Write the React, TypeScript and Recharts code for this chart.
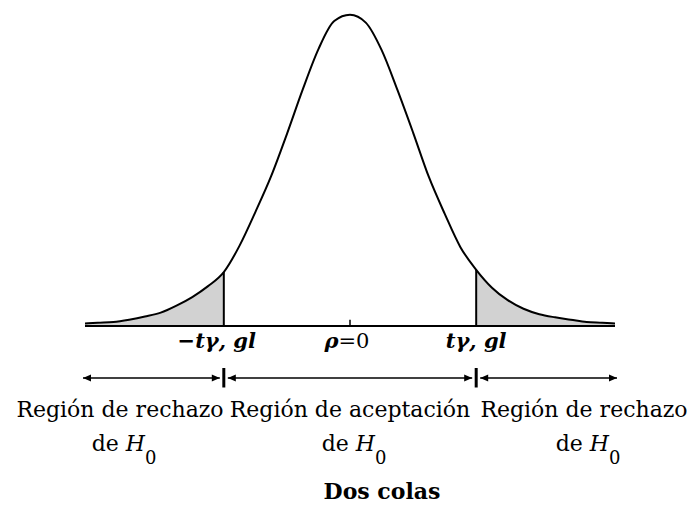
import React from "react";
import {
    ComposedChart,
    Line,
    Area,
    XAxis,
    YAxis,
    ReferenceLine,
    ReferenceDot,
} from "recharts";

// t values on the horizontal axis and the curve height
const tValues = [
    -4.2, -4, -3.75, -3.5, -3.25, -3, -2.75, -2.5, -2.25, -2, -1.75, -1.5, -1.25, -1, -0.75, -0.5, -0.25,
    0, 0.25, 0.5, 0.75, 1, 1.25, 1.5, 1.75, 2, 2.25, 2.5, 2.75, 3, 3.25, 3.5, 3.75, 4, 4.2,
];
const densityValues = [
    0.003, 0.004, 0.005, 0.008, 0.012, 0.017, 0.026, 0.037, 0.051, 0.069, 0.103, 0.146, 0.192, 0.246, 0.303,
    0.355, 0.391, 0.399, 0.389, 0.354, 0.303, 0.248, 0.191, 0.144, 0.101, 0.072, 0.049, 0.033, 0.022, 0.015,
    0.011, 0.008, 0.005, 0.004, 0.003,
];
const criticalValues = [-2, 2];
const regionBounds = [
    [-4.2, -2],
    [-2, 2],
    [2, 4.2],
];
const regionLabels = ["Región de rechazo", "Región de aceptación", "Región de rechazo"];

const data = tValues.map((t, i) => ({
    t,
    density: densityValues[i],
    tail: Math.abs(t) >= 2 ? densityValues[i] : null,
}));

const densityAt = (t: number) => data.find((d) => d.t === t)?.density ?? 0;

const FONT = "'DejaVu Serif', serif";
const ARROW_Y = -0.0667;
const LABEL_Y = -0.0282;

function RegionArrow(props: any) {
    const { x1, x2, y1, padL, padR } = props;
    const a = x1 + padL;
    const b = x2 - padR;
    const y = y1;
    return (
        <g>
            <line x1={a} y1={y} x2={b} y2={y} stroke="#000" strokeWidth={1.5} />
            <polygon points={`${a},${y} ${a + 8},${y - 3.5} ${a + 8},${y + 3.5}`} fill="#000" />
            <polygon points={`${b},${y} ${b - 8},${y - 3.5} ${b - 8},${y + 3.5}`} fill="#000" />
        </g>
    );
}

function TickText(props: any) {
    const { cx, cy, kind } = props;
    if (kind === "center") {
        return (
            <text x={cx - 3} y={cy} textAnchor="middle" fontFamily={FONT} fontSize={21} fill="#000">
                <tspan fontStyle="italic" fontWeight="bold">ρ</tspan>
                <tspan>=0</tspan>
            </text>
        );
    }
    const neg = kind === "neg";
    return (
        <text
            x={cx + (neg ? -7 : 0)}
            y={cy}
            textAnchor="middle"
            fontFamily={FONT}
            fontSize={21}
            fontStyle="italic"
            fontWeight="bold"
            fill="#000"
        >
            {neg ? "−tγ, gl" : "tγ, gl"}
        </text>
    );
}

const captionCenters = [120, 350, 584];

export default function App() {
    return (
        <div style={{ position: "absolute", left: 0, top: 0, width: 691, height: 506, background: "#fff" }}>
            <ComposedChart
                width={691}
                height={506}
                data={data}
                margin={{ top: 0, right: 76, bottom: 0, left: 85 }}
            >
                <XAxis dataKey="t" type="number" domain={[-4.2, 4.2]} hide allowDataOverflow />
                <YAxis type="number" domain={[-0.231, 0.418]} hide allowDataOverflow />
                <Area
                    dataKey="tail"
                    type="monotone"
                    baseValue={0}
                    fill="#d2d2d2"
                    fillOpacity={1}
                    stroke="none"
                    connectNulls={false}
                    isAnimationActive={false}
                />
                <Line
                    dataKey="density"
                    type="monotone"
                    stroke="#000"
                    strokeWidth={2}
                    dot={false}
                    isAnimationActive={false}
                />
                {/* baseline */}
                <ReferenceLine
                    segment={[
                        { x: -4.2, y: 0 },
                        { x: 4.2, y: 0 },
                    ]}
                    stroke="#000"
                    strokeWidth={2}
                    ifOverflow="visible"
                />
                {/* center tick */}
                <ReferenceLine
                    segment={[
                        { x: 0, y: 0 },
                        { x: 0, y: 0.008 },
                    ]}
                    stroke="#000"
                    strokeWidth={1.5}
                    ifOverflow="visible"
                />
                {criticalValues.map((c) => (
                    <ReferenceLine
                        key={"crit" + c}
                        segment={[
                            { x: c, y: 0 },
                            { x: c, y: densityAt(c) },
                        ]}
                        stroke="#000"
                        strokeWidth={2}
                        ifOverflow="visible"
                    />
                ))}
                {criticalValues.map((c) => (
                    <ReferenceLine
                        key={"bar" + c}
                        segment={[
                            { x: c, y: -0.054 },
                            { x: c, y: -0.079 },
                        ]}
                        stroke="#000"
                        strokeWidth={3}
                        ifOverflow="visible"
                    />
                ))}
                {regionBounds.map(([from, to], i) => (
                    <ReferenceLine
                        key={"region" + i}
                        segment={[
                            { x: from, y: ARROW_Y },
                            { x: to, y: ARROW_Y },
                        ]}
                        ifOverflow="visible"
                        shape={(p: any) => (
                            <RegionArrow
                                {...p}
                                padL={criticalValues.includes(from) ? 4 : -2}
                                padR={criticalValues.includes(to) ? 4 : -2}
                            />
                        )}
                    />
                ))}
                <ReferenceDot
                    x={-2}
                    y={LABEL_Y}
                    r={0}
                    ifOverflow="visible"
                    shape={(p: any) => <TickText {...p} kind="neg" />}
                />
                <ReferenceDot
                    x={0}
                    y={LABEL_Y}
                    r={0}
                    ifOverflow="visible"
                    shape={(p: any) => <TickText {...p} kind="center" />}
                />
                <ReferenceDot
                    x={2}
                    y={LABEL_Y}
                    r={0}
                    ifOverflow="visible"
                    shape={(p: any) => <TickText {...p} kind="pos" />}
                />
            </ComposedChart>

            {regionLabels.map((label, i) => (
                <div
                    key={i}
                    style={{
                        position: "absolute",
                        top: 393,
                        left: captionCenters[i] - 150,
                        width: 300,
                        textAlign: "center",
                        fontFamily: FONT,
                        fontSize: 22,
                        lineHeight: "34px",
                        color: "#000",
                        whiteSpace: "nowrap",
                    }}
                >
                    <div>{label}</div>
                    <div style={{ paddingLeft: 8 }}>
                        de <span style={{ fontStyle: "italic" }}>H</span>
                        <span style={{ fontSize: 18, position: "relative", top: 13 }}>0</span>
                    </div>
                </div>
            ))}

            <div
                style={{
                    position: "absolute",
                    top: 474,
                    left: 382 - 150,
                    width: 300,
                    textAlign: "center",
                    fontFamily: FONT,
                    fontSize: 22,
                    fontWeight: "bold",
                    lineHeight: "34px",
                    color: "#000",
                }}
            >
                Dos colas
            </div>
        </div>
    );
}
